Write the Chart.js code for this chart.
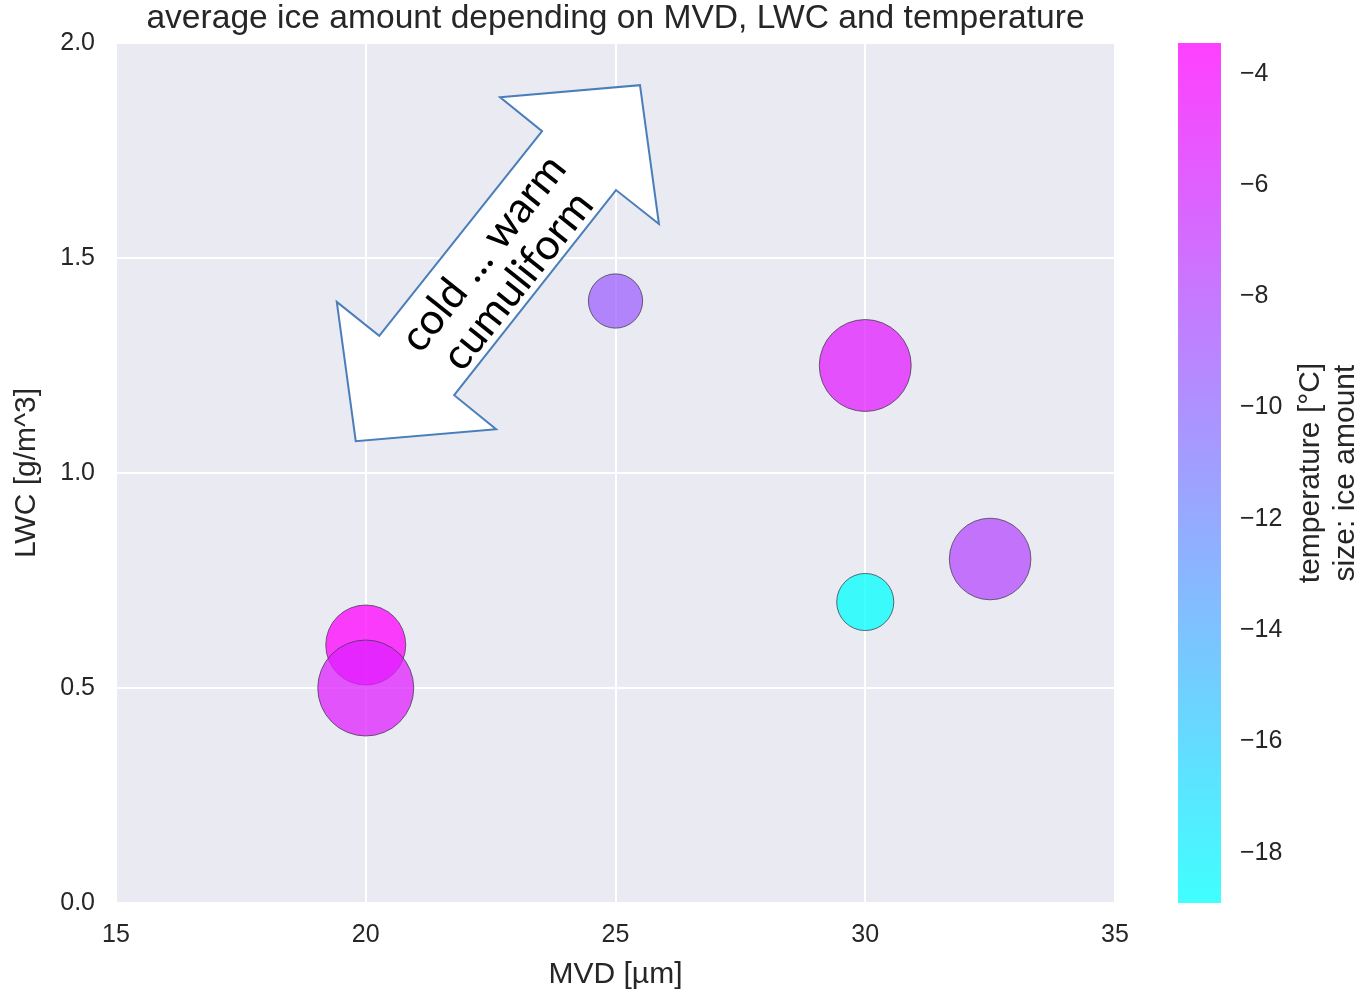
<!DOCTYPE html>
<html>
<head>
<meta charset="utf-8">
<title>average ice amount depending on MVD, LWC and temperature</title>
<script src="https://cdn.jsdelivr.net/npm/chart.js@4.4.1/dist/chart.umd.min.js"></script>
<style>
  html, body { margin: 0; padding: 0; background: #ffffff; }
  #wrap { width: 1362px; height: 997px; position: relative; }
</style>
</head>
<body>
<div id="wrap"><canvas id="chart" width="1362" height="997"></canvas></div>
<script>
// ---- measurements: one entry per test condition ----
const mvd = [20, 20, 25, 30, 30, 32.5];               // MVD [µm]
const lwc = [0.6, 0.5, 1.4, 1.25, 0.7, 0.8];          // LWC [g/m^3]
const temperature = [-3.45, -5.4, -9.3, -5.2, -18.9, -7.9]; // [°C]
const iceAmount = [1.0, 1.44, 0.46, 1.32, 0.51, 1.04];      // relative ice amount

// ---- axis ticks ----
const xTicks = [15, 20, 25, 30, 35];
const yTicks = [0.0, 0.5, 1.0, 1.5, 2.0];
const tempTicks = [-4, -6, -8, -10, -12, -14, -16, -18];

// ---- double arrow annotation outline, in (MVD, LWC) units ----
const arrowX = [22.69, 25.49, 25.87, 25.01, 21.77, 22.61, 19.80, 19.42, 20.27, 23.53];
const arrowY = [1.874, 1.902, 1.579, 1.658, 1.181, 1.102, 1.074, 1.398, 1.319, 1.795];
const arrowLabelAt = [22.70, 1.479];
const arrowLines = ['cold ... warm', 'cumuliform'];

const TITLE = 'average ice amount depending on MVD, LWC and temperature';
const TEXT = '#262626';
const FONT = "'Liberation Sans', Arial, Helvetica, sans-serif";
const ALPHA = 0.75;

const tMin = Math.min(...temperature);
const tMax = Math.max(...temperature);

// matplotlib "cool" colormap: cyan -> magenta
function cool(t, a) {
  const r = Math.round(255 * t), g = Math.round(255 * (1 - t));
  return `rgba(${r},${g},255,${a})`;
}
const pointColors = temperature.map(v => cool((v - tMin) / (tMax - tMin), ALPHA));
const points = mvd.map((x, i) => ({ x: x, y: lwc[i], r: 40 * Math.sqrt(iceAmount[i]) }));

const fixedTicks = list => scale => { scale.ticks = list.map(v => ({ value: v })); };
// fixed box size; no extra room reserved for overhanging tick labels
const fixedBox = (w, h) => scale => {
  if (w !== null) scale.width = w;
  if (h !== null) scale.height = h;
  scale.paddingTop = scale.paddingBottom = scale.paddingLeft = scale.paddingRight = 0;
};

// plot background + title
const backdrop = {
  id: 'backdrop',
  beforeDraw(chart) {
    const { ctx, chartArea: a } = chart;
    ctx.save();
    ctx.fillStyle = '#eaeaf2';
    ctx.fillRect(a.left, a.top, a.right - a.left, a.bottom - a.top);
    ctx.fillStyle = TEXT;
    ctx.font = `33.6px ${FONT}`;
    ctx.textAlign = 'center';
    ctx.textBaseline = 'middle';
    ctx.fillText(TITLE, (a.left + a.right) / 2, 19);
    ctx.restore();
  }
};

// colour bar next to the plot, scaled by the temperature axis
const colorBar = {
  id: 'colorBar',
  afterDraw(chart) {
    const { ctx, chartArea: a } = chart;
    const ts = chart.scales.temp;
    const x0 = a.right + 63, w = 43;
    const yTop = ts.getPixelForValue(tMax), yBot = ts.getPixelForValue(tMin);
    ctx.save();
    const g = ctx.createLinearGradient(0, yBot, 0, yTop);
    g.addColorStop(0, cool(0, ALPHA));
    g.addColorStop(1, cool(1, ALPHA));
    ctx.fillStyle = g;
    ctx.fillRect(x0, yTop, w, yBot - yTop);
    // colour bar label, two lines read bottom-to-top
    ctx.fillStyle = TEXT;
    ctx.font = `30px ${FONT}`;
    ctx.textAlign = 'center';
    ctx.textBaseline = 'middle';
    const cy = (a.top + a.bottom) / 2;
    [['temperature [°C]', a.right + 196], ['size: ice amount', a.right + 231]].forEach(([txt, x]) => {
      ctx.save();
      ctx.translate(x, cy);
      ctx.rotate(-Math.PI / 2);
      ctx.fillText(txt, 0, 0);
      ctx.restore();
    });
    ctx.restore();
  }
};

// white double arrow with rotated caption
const arrowNote = {
  id: 'arrowNote',
  afterDatasetsDraw(chart) {
    const { ctx } = chart;
    const xs = chart.scales.x, ys = chart.scales.y;
    ctx.save();
    ctx.beginPath();
    arrowX.forEach((x, i) => {
      const px = xs.getPixelForValue(x), py = ys.getPixelForValue(arrowY[i]);
      if (i === 0) ctx.moveTo(px, py); else ctx.lineTo(px, py);
    });
    ctx.closePath();
    ctx.fillStyle = '#ffffff';
    ctx.fill();
    ctx.lineWidth = 2;
    ctx.strokeStyle = '#4a7ebb';
    ctx.lineJoin = 'miter';
    ctx.stroke();

    const cx = xs.getPixelForValue(arrowLabelAt[0]);
    const cy = ys.getPixelForValue(arrowLabelAt[1]);
    ctx.translate(cx, cy);
    ctx.rotate(-51.5 * Math.PI / 180);
    ctx.fillStyle = '#000000';
    ctx.font = "43px Lato, 'Open Sans', sans-serif";
    ctx.textAlign = 'center';
    ctx.textBaseline = 'middle';
    ctx.fillText(arrowLines[0], 0, -22);
    ctx.fillText(arrowLines[1], 0, 22);
    ctx.restore();
  }
};

new Chart(document.getElementById('chart'), {
  type: 'bubble',
  data: {
    datasets: [{
      data: points,
      backgroundColor: pointColors,
      borderColor: 'rgba(60,60,70,0.75)',
      borderWidth: 1,
      hoverRadius: 0
    }]
  },
  options: {
    responsive: false,
    devicePixelRatio: 1,
    animation: false,
    events: [],
    layout: { autoPadding: false, padding: { top: 43, left: 0, right: 0, bottom: 0 } },
    plugins: { legend: { display: false }, tooltip: { enabled: false }, title: { display: false } },
    scales: {
      x: {
        type: 'linear', min: 15, max: 35,
        afterBuildTicks: fixedTicks(xTicks),
        afterFit: fixedBox(null, 94),
        border: { display: false },
        grid: { color: '#ffffff', lineWidth: 2, drawTicks: false },
        ticks: { color: TEXT, font: { family: FONT, size: 25 }, padding: 17 },
        title: { display: true, text: 'MVD [µm]', color: TEXT, font: { family: FONT, size: 30 }, padding: { top: 0, bottom: 4 } }
      },
      y: {
        type: 'linear', min: 0, max: 2, position: 'left',
        afterBuildTicks: fixedTicks(yTicks),
        afterFit: fixedBox(116, null),
        border: { display: false },
        grid: { color: '#ffffff', lineWidth: 2, drawTicks: false },
        ticks: { color: TEXT, font: { family: FONT, size: 25 }, padding: 21, callback: v => v.toFixed(1) },
        title: { display: true, text: 'LWC [g/m^3]', color: TEXT, font: { family: FONT, size: 30 }, padding: { top: 9, bottom: 0 } }
      },
      temp: {
        type: 'linear', axis: 'y', position: 'right', min: tMin, max: tMax,
        afterBuildTicks: fixedTicks(tempTicks),
        afterFit: fixedBox(247, null),
        border: { display: false },
        grid: { display: false, drawTicks: false },
        ticks: { color: TEXT, font: { family: FONT, size: 25 }, padding: 125,
                 callback: v => (v < 0 ? '\u2212' : '') + Math.abs(v) }
      }
    }
  },
  plugins: [backdrop, colorBar, arrowNote]
});
</script>
</body>
</html>
